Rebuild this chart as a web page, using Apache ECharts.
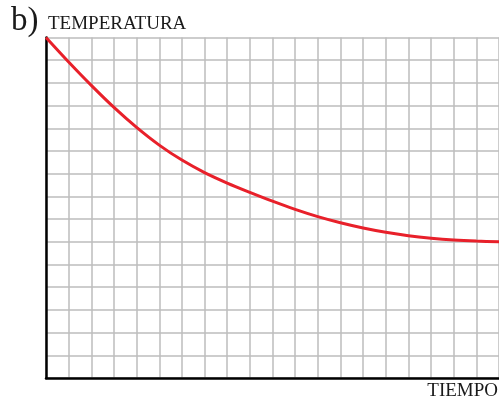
<!DOCTYPE html>
<html>
<head>
<meta charset="utf-8">
<script src="https://cdn.jsdelivr.net/npm/echarts@6/dist/echarts.min.js"></script>
<style>
  html, body { margin: 0; padding: 0; background: #fff; }
  #chart { width: 499px; height: 403px; }
</style>
</head>
<body>
<div id="chart"></div>
<script>
// Cooling curve: temperature against time, on a squared grid
const tiempo = [0, 1, 2, 3, 4, 5, 6, 7, 8, 9, 10, 11, 12, 13, 14, 15, 16, 17, 18, 19, 20];
const temperatura = [15, 13.92, 12.89, 11.92, 11.04, 10.26, 9.6, 9.05, 8.59, 8.18, 7.79, 7.43, 7.11, 6.84, 6.61, 6.42, 6.27, 6.16, 6.08, 6.03, 6.0];

const panelLabel = 'b)';
const yAxisTitle = 'TEMPERATURA';
const xAxisTitle = 'TIEMPO';

const serif = '"Liberation Serif", "DejaVu Serif", serif';
const gridColor = '#bdbdbd';

const chart = echarts.init(document.getElementById('chart'), null, { renderer: 'canvas' });

chart.setOption({
  animation: false,
  backgroundColor: '#ffffff',
  grid: { left: 46, top: 37.5, width: 454, height: 340.5, containLabel: false },
  xAxis: {
    type: 'value',
    min: 0, max: 20, interval: 1,
    axisLine: { show: true, onZero: false, lineStyle: { color: '#000', width: 2.5 } },
    axisTick: { show: false },
    axisLabel: { show: false },
    splitLine: { show: true, lineStyle: { color: gridColor, width: 1.5 } }
  },
  yAxis: {
    type: 'value',
    min: 0, max: 15, interval: 1,
    axisLine: { show: true, onZero: false, lineStyle: { color: '#000', width: 2.5 } },
    axisTick: { show: false },
    axisLabel: { show: false },
    splitLine: { show: true, lineStyle: { color: gridColor, width: 1.5 } }
  },
  series: [{
    type: 'line',
    data: tiempo.map((t, i) => [t, temperatura[i]]),
    smooth: 0.3,
    symbol: 'none',
    lineStyle: { color: '#e8202a', width: 3 },
    z: 5
  }],
  graphic: [
    {
      type: 'text', left: 11, top: 5,
      style: { text: panelLabel, font: '33px ' + serif, fill: '#1a1a1a' }
    },
    {
      type: 'text', left: 48, top: 15,
      style: { text: yAxisTitle, font: '19px ' + serif, fill: '#1a1a1a' }
    },
    {
      type: 'text', right: 1, top: 382,
      style: { text: xAxisTitle, font: '19px ' + serif, fill: '#1a1a1a' }
    }
  ]
});
</script>
</body>
</html>
